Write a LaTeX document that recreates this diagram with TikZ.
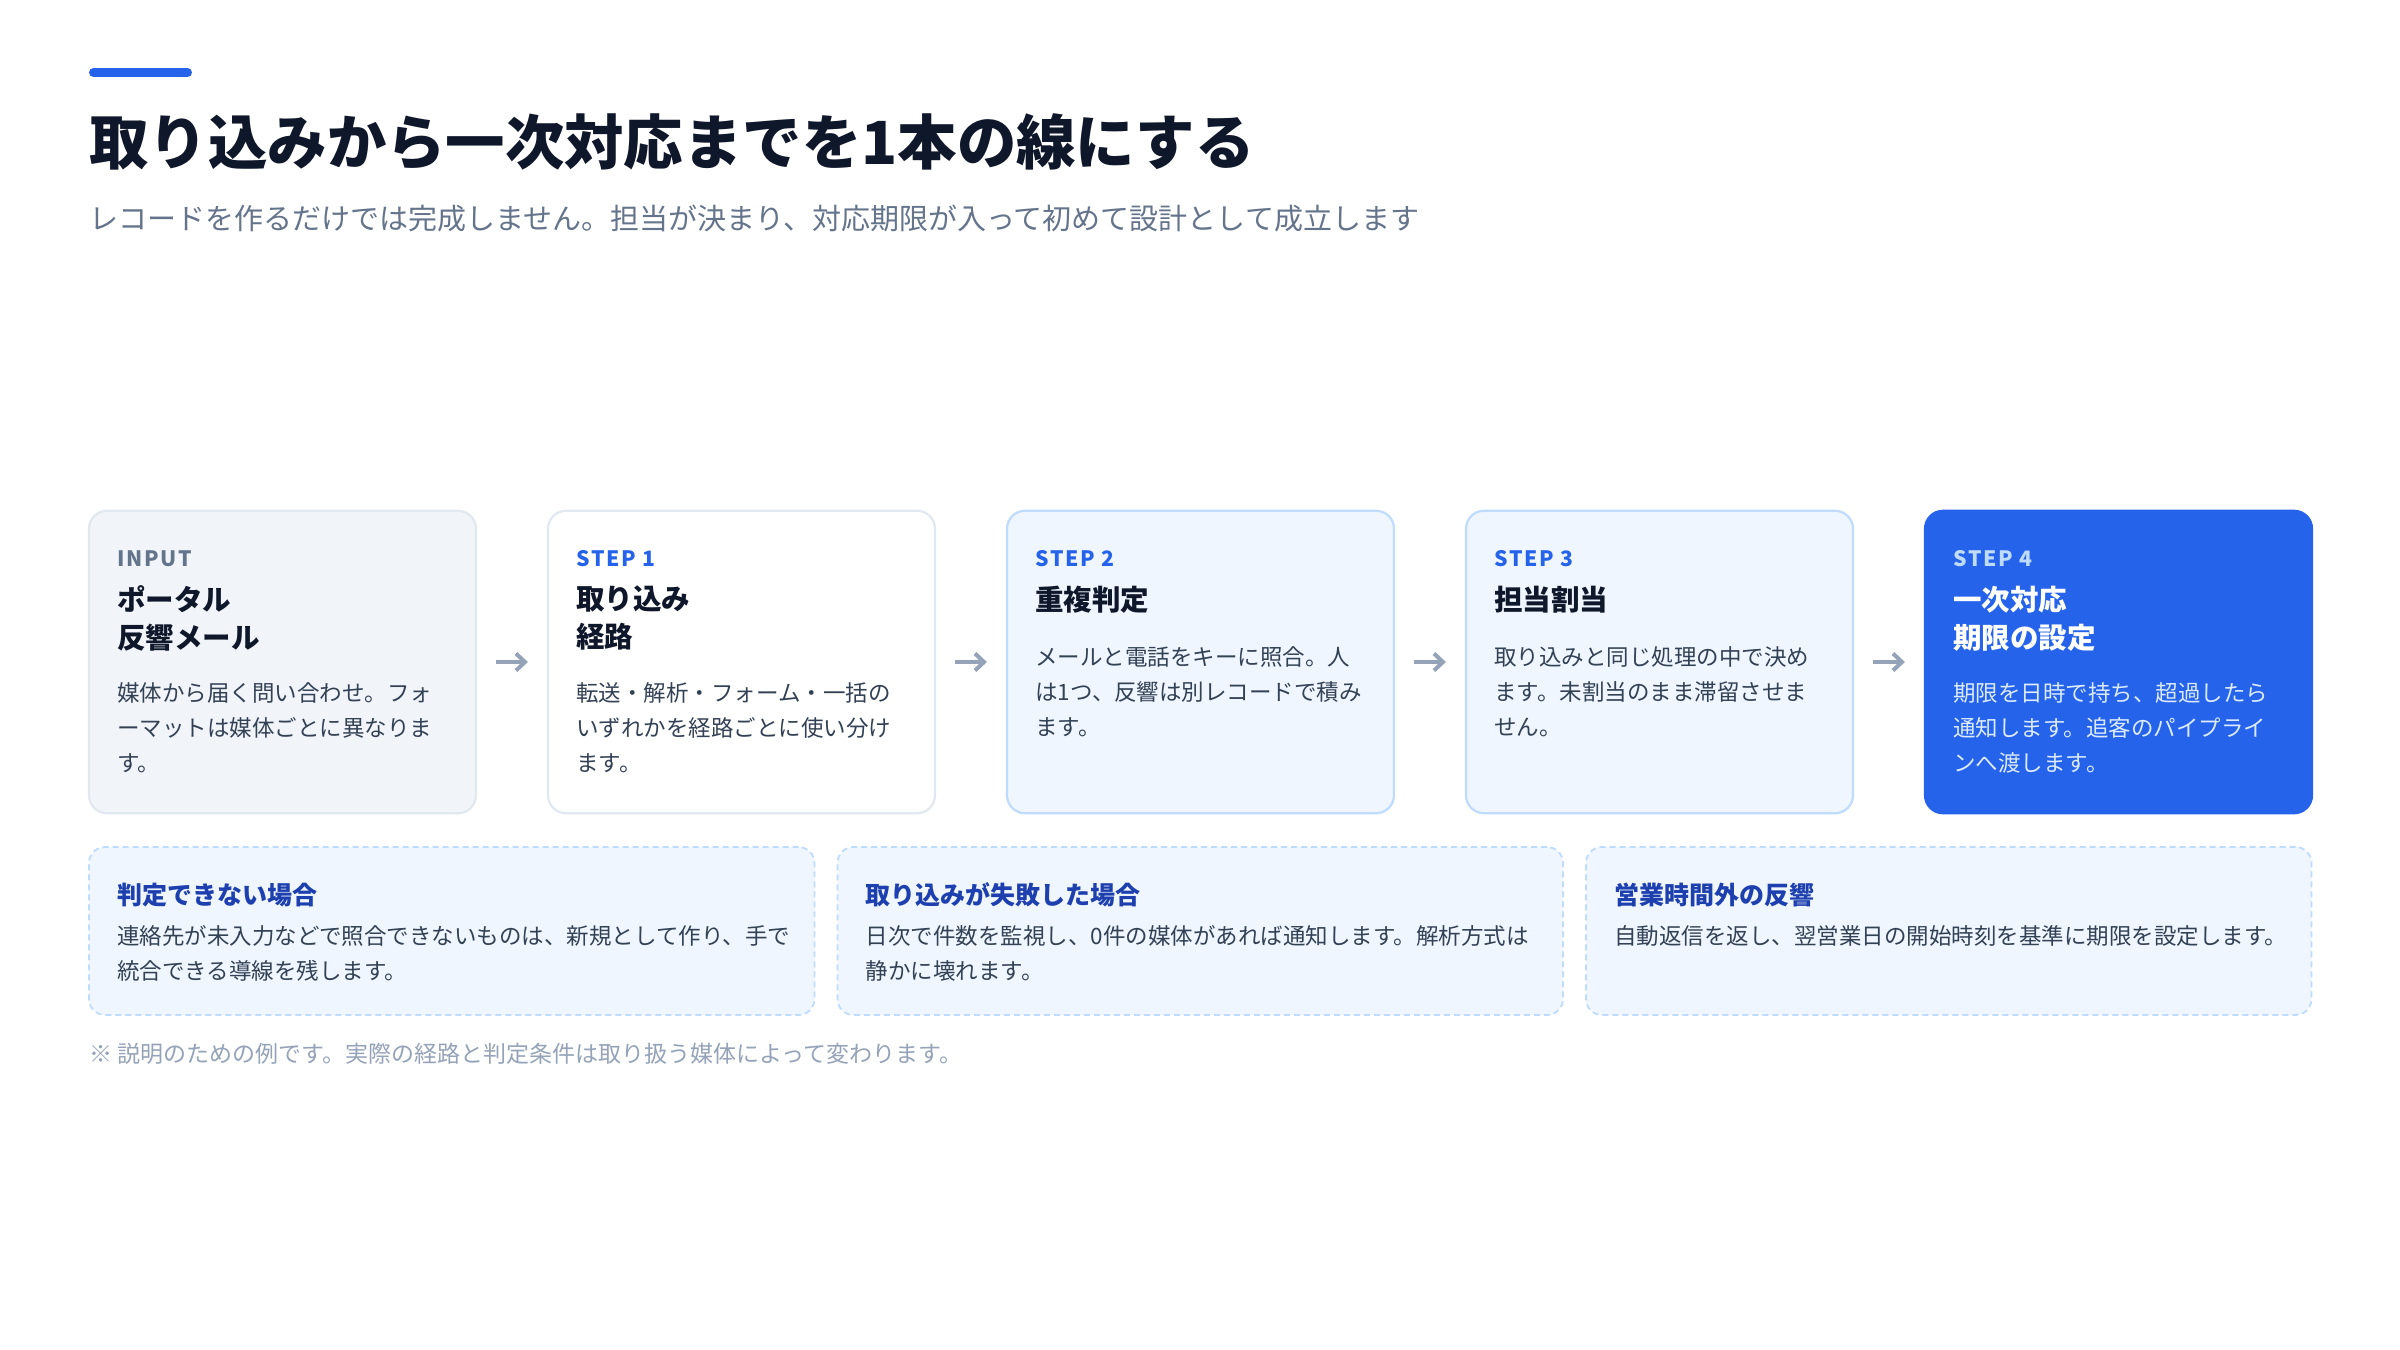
\documentclass[tikz,border=0pt]{standalone}
\usepackage{fontspec}
\setmainfont{Noto Sans CJK JP}
\usetikzlibrary{arrows.meta}
\definecolor{accent}{HTML}{2563EB}
\definecolor{ink}{HTML}{0F172A}
\definecolor{slate}{HTML}{64748B}
\definecolor{bodyink}{HTML}{334155}
\definecolor{mute}{HTML}{94A3B8}
\definecolor{inputfill}{HTML}{F1F5F9}
\definecolor{cardline}{HTML}{E2E8F0}
\definecolor{bluefill}{HTML}{EFF6FF}
\definecolor{blueline}{HTML}{BFDBFE}
\definecolor{notehead}{HTML}{1E40AF}
\definecolor{paleblue}{HTML}{DBEAFE}
\begin{document}
\begin{tikzpicture}[x=0.5pt,y=-0.5pt,
	card/.style={draw=cardline, line width=1.1pt, rounded corners=9pt, minimum width=193.5pt, minimum height=151.25pt, inner sep=0pt},
	note/.style={draw=blueline, fill=bluefill, dash pattern=on 3pt off 2pt, line width=0.9pt, rounded corners=8pt, minimum width=362.75pt, minimum height=84pt, inner sep=0pt},
	tag/.style={anchor=base west, inner sep=0pt, font=\bfseries\fontsize{10.6}{12}\selectfont\addfontfeature{LetterSpace=8}},
	head/.style={inner sep=0pt, align=left, text=ink, font=\bfseries\fontsize{14.25}{19}\selectfont},
	desc/.style={anchor=north west, inner sep=0pt, align=left, text=bodyink, font=\fontsize{11.25}{17.5}\selectfont},
	flow/.style={draw=mute, line width=2pt, shorten <=9.5pt, shorten >=9.5pt, -{Straight Barb[length=4.5pt,width=8.5pt]}}
	]
	% Page
	\useasboundingbox[fill=white] (0,0) rectangle (2400,1350);
	% Header
	\draw [accent, line width=4.5pt, line cap=round] (93.5,72.5) -- (187.5,72.5);
	\node [anchor=base west, inner sep=0pt, text=ink, font=\bfseries\fontsize{29.7}{36}\selectfont] (title) at (89,164) {取り込みから一次対応までを1本の線にする};
	\node [anchor=base west, inner sep=0pt, text=slate, font=\fontsize{14.5}{18}\selectfont] (subtitle) at (89,229.5) {レコードを作るだけでは完成しません。担当が決まり、対応期限が入って初めて設計として成立します};
	% Steps
	\node [card, fill=inputfill] (in) at (282.5,662) {};
	\node [card, fill=white] (s1) at (741.5,662) {};
	\node [card, draw=blueline, fill=bluefill] (s2) at (1200.5,662) {};
	\node [card, draw=blueline, fill=bluefill] (s3) at (1659.5,662) {};
	\node [card, draw=accent, fill=accent] (s4) at (2118.5,662) {};
	\draw [flow] (in) -- (s1);
	\draw [flow] (s1) -- (s2);
	\draw [flow] (s2) -- (s3);
	\draw [flow] (s3) -- (s4);
	% Input
	\node [tag, text=slate] (in-tag) at (117,566) {INPUT};
	\node [head, anchor=north west] (in-head) at (117,585.5) {ポータル\\反響メール};
	\node [desc] (in-desc) at (117,682) {媒体から届く問い合わせ。フォ\\ーマットは媒体ごとに異なりま\\す。};
	% Step 1
	\node [tag, text=accent] (s1-tag) at (576,566) {STEP 1};
	\node [head, anchor=north west] (s1-head) at (576,585.5) {取り込み\\経路};
	\node [desc] (s1-desc) at (576,682) {転送・解析・フォーム・一括の\\いずれかを経路ごとに使い分け\\ます。};
	% Step 2
	\node [tag, text=accent] (s2-tag) at (1035,566) {STEP 2};
	\node [head, anchor=base west] (s2-head) at (1035,610.5) {重複判定};
	\node [desc] (s2-desc) at (1035,646) {メールと電話をキーに照合。人\\は1つ、反響は別レコードで積み\\ます。};
	% Step 3
	\node [tag, text=accent] (s3-tag) at (1494,566) {STEP 3};
	\node [head, anchor=base west] (s3-head) at (1494,610.5) {担当割当};
	\node [desc] (s3-desc) at (1494,646) {取り込みと同じ処理の中で決め\\ます。未割当のまま滞留させま\\せん。};
	% Step 4
	\node [tag, text=blueline] (s4-tag) at (1953,566) {STEP 4};
	\node [head, anchor=north west, text=white] (s4-head) at (1953,585.5) {一次対応\\期限の設定};
	\node [desc, text=paleblue] (s4-desc) at (1953,682) {期限を日時で持ち、超過したら\\通知します。追客のパイプライ\\ンへ渡します。};
	% Exceptions
	\node [note] (n1) at (451.75,931) {};
	\node [note] (n2) at (1200.25,931) {};
	\node [note] (n3) at (1948.75,931) {};
	\node [head, anchor=base west, text=notehead, font=\bfseries\fontsize{12.5}{15}\selectfont] (n1-head) at (117,904) {判定できない場合};
	\node [desc] (n1-desc) at (117,925.5) {連絡先が未入力などで照合できないものは、新規として作り、手で\\統合できる導線を残します。};
	\node [head, anchor=base west, text=notehead, font=\bfseries\fontsize{12.5}{15}\selectfont] (n2-head) at (865.5,904) {取り込みが失敗した場合};
	\node [desc] (n2-desc) at (865.5,925.5) {日次で件数を監視し、0件の媒体があれば通知します。解析方式は\\静かに壊れます。};
	\node [head, anchor=base west, text=notehead, font=\bfseries\fontsize{12.5}{15}\selectfont] (n3-head) at (1614,904) {営業時間外の反響};
	\node [desc] (n3-desc) at (1614,925.5) {自動返信を返し、翌営業日の開始時刻を基準に期限を設定します。};
	% Footnote
	\node [anchor=base west, inner sep=0pt, text=mute, font=\fontsize{11.5}{14}\selectfont] (foot) at (89,1062) {※ 説明のための例です。実際の経路と判定条件は取り扱う媒体によって変わります。};
\end{tikzpicture}
\end{document}
